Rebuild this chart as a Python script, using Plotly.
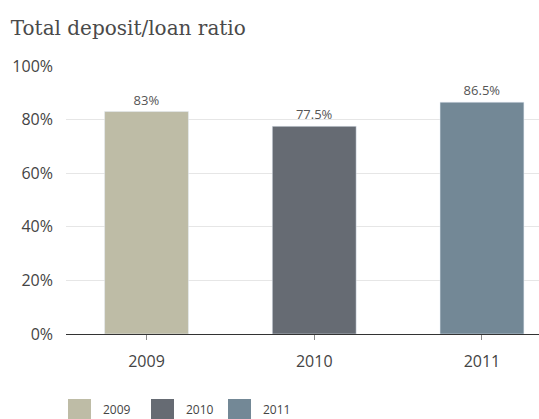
import plotly.graph_objects as go

years = ["2009", "2010", "2011"]
ratios = [83, 77.5, 86.5]
labels = ["83%", "77.5%", "86.5%"]
colors = ["#BEBCA6", "#666B73", "#738896"]
y_ticks = [0, 20, 40, 60, 80, 100]
y_tick_text = ["0%", "20%", "40%", "60%", "80%", "100%"]

fig = go.Figure()
fig.add_trace(go.Bar(
    x=list(range(len(years))), y=ratios, marker_color=colors, width=0.5,
    text=labels, textposition="outside", cliponaxis=False,
    textfont=dict(family="Open Sans", size=13, color="#555555"),
    showlegend=False, hoverinfo="skip",
))

fig.update_layout(
    width=539, height=419,
    margin=dict(l=66, r=0, t=66, b=85),
    paper_bgcolor="white", plot_bgcolor="white",
    font=dict(family="Open Sans", color="#444444"),
    title=dict(text="Total deposit/loan ratio", x=0.02, xanchor="left",
               y=0.932, yanchor="middle",
               font=dict(family="DejaVu Serif", size=20, color="#4a4a4a")),
    xaxis=dict(range=[-0.48, 2.34], tickvals=list(range(len(years))), ticktext=years,
               showgrid=False, zeroline=False, showline=True, linecolor="#333333",
               linewidth=1, ticks="outside", ticklen=5, tickcolor="#888888",
               tickfont=dict(size=16, color="#444444"), ticklabelstandoff=8),
    yaxis=dict(range=[0, 100], tickvals=y_ticks, ticktext=y_tick_text,
               showgrid=True, gridcolor="#E6E6E6", gridwidth=1, zeroline=False,
               tickfont=dict(size=16, color="#444444"), ticklabelstandoff=12),
    bargap=0.5,
)

# custom legend
for i, (yr, c) in enumerate(zip(years, colors)):
    left = [68, 151, 228][i]
    fig.add_shape(type="rect", xref="paper", yref="paper",
                  x0=(left - 66) / 473, x1=(left + 23 - 66) / 473,
                  y0=-65 / 268, y1=-85 / 268, fillcolor=c, line_width=0, layer="above")
    fig.add_annotation(text=yr, xref="paper", yref="paper",
                       x=(left + 33 - 66) / 473, y=-75 / 268, xanchor="left", yanchor="middle",
                       showarrow=False, font=dict(size=12, color="#444444"))

fig.write_html("out.html")
